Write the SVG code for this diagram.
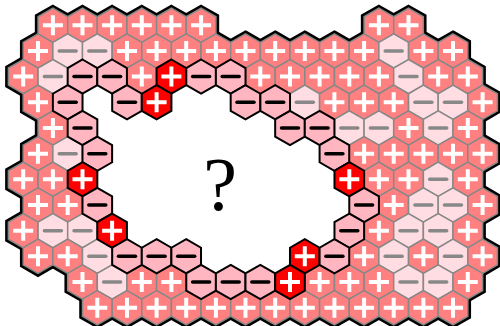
<svg xmlns="http://www.w3.org/2000/svg" xmlns:xlink="http://www.w3.org/1999/xlink" width="500" height="326" viewBox="0 0 500 326">
<style>
.cP{fill:#FF8080;stroke:#888;stroke-width:1.5px}
.cL{fill:#FFDDE2;stroke:#888;stroke-width:1.5px}
.cD{fill:#FFB6C1;stroke:#000;stroke-width:2px}
.cR{fill:#FF0000;stroke:#000;stroke-width:2px}
.sW{fill:none;stroke:#fff;stroke-width:4px}
.sG{fill:none;stroke:#888;stroke-width:3.5px;stroke-linecap:round}
.sK{fill:none;stroke:#000;stroke-width:3.5px;stroke-linecap:round}
.under{fill:#000;stroke:#000;stroke-width:6.5px}
.hole{fill:#fff;stroke:#fff;stroke-width:7px}
.q{font-family:"Liberation Serif","DejaVu Serif",serif;font-size:76px;fill:#000}
</style>
<defs>
<path id="h" d="M0-17.1L14.82-8.55V8.55L0 17.1L-14.82 8.55V-8.55Z"/>
<path id="pl" d="M-10 0H10M0-10V10"/>
<path id="mi" d="M-8.5 0H8.5"/>
<g id="P"><use href="#h" class="cP"/><use href="#pl" class="sW"/></g>
<g id="L"><use href="#h" class="cL"/><use href="#mi" class="sG"/></g>
<g id="D"><use href="#h" class="cD"/><use href="#mi" class="sK"/></g>
<g id="R"><use href="#h" class="cR"/><use href="#pl" class="sW"/></g>
<g id="ev"><use href="#h" x="38"/><use href="#h" x="67.7"/><use href="#h" x="97.3"/><use href="#h" x="127"/><use href="#h" x="156.6"/><use href="#h" x="186.2"/><use href="#h" x="215.9"/><use href="#h" x="245.5"/><use href="#h" x="275.2"/><use href="#h" x="304.8"/><use href="#h" x="334.4"/><use href="#h" x="364.1"/><use href="#h" x="393.7"/><use href="#h" x="423.4"/><use href="#h" x="453"/><use href="#h" x="482.6"/></g>
<g id="od"><use href="#h" x="23.2"/><use href="#h" x="52.9"/><use href="#h" x="82.5"/><use href="#h" x="112.1"/><use href="#h" x="141.8"/><use href="#h" x="171.4"/><use href="#h" x="201.1"/><use href="#h" x="230.7"/><use href="#h" x="260.3"/><use href="#h" x="290"/><use href="#h" x="319.6"/><use href="#h" x="349.3"/><use href="#h" x="378.9"/><use href="#h" x="408.5"/><use href="#h" x="438.2"/><use href="#h" x="467.8"/></g>
</defs>
<g id="outline" class="under">
<g transform="translate(0,25.3)"><use href="#h" x="52.9"/><use href="#h" x="82.5"/><use href="#h" x="112.1"/><use href="#h" x="141.8"/><use href="#h" x="171.4"/><use href="#h" x="201.1"/><use href="#h" x="378.9"/><use href="#h" x="408.5"/></g>
<g transform="translate(0,51)"><use href="#h" x="38"/><use href="#h" x="67.7"/><use href="#h" x="97.3"/><use href="#h" x="127"/><use href="#h" x="156.6"/><use href="#h" x="186.2"/><use href="#h" x="215.9"/><use href="#h" x="245.5"/><use href="#h" x="275.2"/><use href="#h" x="304.8"/><use href="#h" x="334.4"/><use href="#h" x="364.1"/><use href="#h" x="393.7"/><use href="#h" x="423.4"/><use href="#h" x="453"/></g>
<use href="#od" y="76.6"/>
<use href="#ev" y="102.3"/>
<g transform="translate(0,128)"><use href="#h" x="52.9"/><use href="#h" x="82.5"/><use href="#h" x="112.1"/><use href="#h" x="141.8"/><use href="#h" x="171.4"/><use href="#h" x="201.1"/><use href="#h" x="230.7"/><use href="#h" x="260.3"/><use href="#h" x="290"/><use href="#h" x="319.6"/><use href="#h" x="349.3"/><use href="#h" x="378.9"/><use href="#h" x="408.5"/><use href="#h" x="438.2"/><use href="#h" x="467.8"/></g>
<use href="#ev" y="153.7"/>
<use href="#od" y="179.3"/>
<use href="#ev" y="205"/>
<use href="#od" y="230.7"/>
<use href="#ev" y="256.3"/>
<g transform="translate(0,282)"><use href="#h" x="82.5"/><use href="#h" x="112.1"/><use href="#h" x="141.8"/><use href="#h" x="171.4"/><use href="#h" x="201.1"/><use href="#h" x="230.7"/><use href="#h" x="260.3"/><use href="#h" x="290"/><use href="#h" x="319.6"/><use href="#h" x="349.3"/><use href="#h" x="378.9"/><use href="#h" x="408.5"/><use href="#h" x="438.2"/><use href="#h" x="467.8"/></g>
<g transform="translate(0,307.7)"><use href="#h" x="97.3"/><use href="#h" x="127"/><use href="#h" x="156.6"/><use href="#h" x="186.2"/><use href="#h" x="215.9"/><use href="#h" x="245.5"/><use href="#h" x="275.2"/><use href="#h" x="304.8"/><use href="#h" x="334.4"/><use href="#h" x="364.1"/><use href="#h" x="393.7"/><use href="#h" x="423.4"/><use href="#h" x="453"/></g>
</g>
<g id="hole" class="hole">
<use href="#h" x="97.3" y="102.3"/><use href="#h" x="186.2" y="102.3"/><use href="#h" x="215.9" y="102.3"/>
<use href="#h" x="112.1" y="128"/><use href="#h" x="141.8" y="128"/><use href="#h" x="171.4" y="128"/><use href="#h" x="201.1" y="128"/><use href="#h" x="230.7" y="128"/><use href="#h" x="260.3" y="128"/>
<use href="#h" x="127" y="153.7"/><use href="#h" x="156.6" y="153.7"/><use href="#h" x="186.2" y="153.7"/><use href="#h" x="215.9" y="153.7"/><use href="#h" x="245.5" y="153.7"/><use href="#h" x="275.2" y="153.7"/><use href="#h" x="304.8" y="153.7"/>
<use href="#h" x="112.1" y="179.3"/><use href="#h" x="141.8" y="179.3"/><use href="#h" x="171.4" y="179.3"/><use href="#h" x="201.1" y="179.3"/><use href="#h" x="230.7" y="179.3"/><use href="#h" x="260.3" y="179.3"/><use href="#h" x="290" y="179.3"/><use href="#h" x="319.6" y="179.3"/>
<use href="#h" x="127" y="205"/><use href="#h" x="156.6" y="205"/><use href="#h" x="186.2" y="205"/><use href="#h" x="215.9" y="205"/><use href="#h" x="245.5" y="205"/><use href="#h" x="275.2" y="205"/><use href="#h" x="304.8" y="205"/><use href="#h" x="334.4" y="205"/>
<use href="#h" x="141.8" y="230.7"/><use href="#h" x="171.4" y="230.7"/><use href="#h" x="201.1" y="230.7"/><use href="#h" x="230.7" y="230.7"/><use href="#h" x="260.3" y="230.7"/><use href="#h" x="290" y="230.7"/><use href="#h" x="319.6" y="230.7"/>
<use href="#h" x="215.9" y="256.3"/><use href="#h" x="245.5" y="256.3"/><use href="#h" x="275.2" y="256.3"/>
</g>
<g id="light-cells">
<g id="row0"><use href="#P" x="52.9" y="25.3"/><use href="#P" x="82.5" y="25.3"/><use href="#P" x="112.1" y="25.3"/><use href="#P" x="141.8" y="25.3"/><use href="#P" x="171.4" y="25.3"/><use href="#P" x="201.1" y="25.3"/><use href="#P" x="378.9" y="25.3"/><use href="#P" x="408.5" y="25.3"/></g>
<g id="row1"><use href="#P" x="38" y="51"/><use href="#L" x="67.7" y="51"/><use href="#L" x="97.3" y="51"/><use href="#P" x="127" y="51"/><use href="#P" x="156.6" y="51"/><use href="#P" x="186.2" y="51"/><use href="#P" x="215.9" y="51"/><use href="#P" x="245.5" y="51"/><use href="#P" x="275.2" y="51"/><use href="#P" x="304.8" y="51"/><use href="#P" x="334.4" y="51"/><use href="#P" x="364.1" y="51"/><use href="#L" x="393.7" y="51"/><use href="#P" x="423.4" y="51"/><use href="#P" x="453" y="51"/></g>
<g id="row2"><use href="#P" x="23.2" y="76.6"/><use href="#L" x="52.9" y="76.6"/><use href="#P" x="141.8" y="76.6"/><use href="#P" x="260.3" y="76.6"/><use href="#P" x="290" y="76.6"/><use href="#P" x="319.6" y="76.6"/><use href="#P" x="349.3" y="76.6"/><use href="#P" x="378.9" y="76.6"/><use href="#L" x="408.5" y="76.6"/><use href="#P" x="438.2" y="76.6"/><use href="#P" x="467.8" y="76.6"/></g>
<g id="row3"><use href="#P" x="38" y="102.3"/><use href="#L" x="304.8" y="102.3"/><use href="#P" x="334.4" y="102.3"/><use href="#P" x="364.1" y="102.3"/><use href="#P" x="393.7" y="102.3"/><use href="#L" x="423.4" y="102.3"/><use href="#L" x="453" y="102.3"/><use href="#P" x="482.6" y="102.3"/></g>
<g id="row4"><use href="#P" x="52.9" y="128"/><use href="#L" x="349.3" y="128"/><use href="#L" x="378.9" y="128"/><use href="#P" x="408.5" y="128"/><use href="#L" x="438.2" y="128"/><use href="#P" x="467.8" y="128"/></g>
<g id="row5"><use href="#P" x="38" y="153.7"/><use href="#L" x="67.7" y="153.7"/><use href="#P" x="364.1" y="153.7"/><use href="#P" x="393.7" y="153.7"/><use href="#P" x="423.4" y="153.7"/><use href="#P" x="453" y="153.7"/><use href="#P" x="482.6" y="153.7"/></g>
<g id="row6"><use href="#P" x="23.2" y="179.3"/><use href="#P" x="52.9" y="179.3"/><use href="#P" x="378.9" y="179.3"/><use href="#P" x="408.5" y="179.3"/><use href="#L" x="438.2" y="179.3"/><use href="#P" x="467.8" y="179.3"/></g>
<g id="row7"><use href="#P" x="38" y="205"/><use href="#P" x="67.7" y="205"/><use href="#P" x="393.7" y="205"/><use href="#L" x="423.4" y="205"/><use href="#L" x="453" y="205"/><use href="#P" x="482.6" y="205"/></g>
<g id="row8"><use href="#P" x="23.2" y="230.7"/><use href="#L" x="52.9" y="230.7"/><use href="#L" x="82.5" y="230.7"/><use href="#P" x="378.9" y="230.7"/><use href="#L" x="408.5" y="230.7"/><use href="#L" x="438.2" y="230.7"/><use href="#P" x="467.8" y="230.7"/></g>
<g id="row9"><use href="#P" x="38" y="256.3"/><use href="#P" x="67.7" y="256.3"/><use href="#L" x="97.3" y="256.3"/><use href="#P" x="364.1" y="256.3"/><use href="#L" x="393.7" y="256.3"/><use href="#P" x="423.4" y="256.3"/><use href="#L" x="453" y="256.3"/><use href="#P" x="482.6" y="256.3"/></g>
<g id="row10"><use href="#P" x="82.5" y="282"/><use href="#L" x="112.1" y="282"/><use href="#P" x="141.8" y="282"/><use href="#P" x="171.4" y="282"/><use href="#P" x="319.6" y="282"/><use href="#P" x="349.3" y="282"/><use href="#P" x="378.9" y="282"/><use href="#L" x="408.5" y="282"/><use href="#L" x="438.2" y="282"/><use href="#P" x="467.8" y="282"/></g>
<g id="row11"><use href="#P" x="97.3" y="307.7"/><use href="#P" x="127" y="307.7"/><use href="#P" x="156.6" y="307.7"/><use href="#P" x="186.2" y="307.7"/><use href="#P" x="215.9" y="307.7"/><use href="#P" x="245.5" y="307.7"/><use href="#P" x="275.2" y="307.7"/><use href="#P" x="304.8" y="307.7"/><use href="#P" x="334.4" y="307.7"/><use href="#P" x="364.1" y="307.7"/><use href="#P" x="393.7" y="307.7"/><use href="#P" x="423.4" y="307.7"/><use href="#P" x="453" y="307.7"/></g>
</g>
<g id="dark-cells">
<use href="#D" x="82.5" y="76.6"/><use href="#D" x="112.1" y="76.6"/><use href="#R" x="171.4" y="76.6"/><use href="#D" x="201.1" y="76.6"/><use href="#D" x="230.7" y="76.6"/>
<use href="#D" x="67.7" y="102.3"/><use href="#D" x="127" y="102.3"/><use href="#R" x="156.6" y="102.3"/><use href="#D" x="245.5" y="102.3"/><use href="#D" x="275.2" y="102.3"/>
<use href="#D" x="82.5" y="128"/><use href="#D" x="290" y="128"/><use href="#D" x="319.6" y="128"/>
<use href="#D" x="97.3" y="153.7"/><use href="#D" x="334.4" y="153.7"/>
<use href="#R" x="82.5" y="179.3"/><use href="#R" x="349.3" y="179.3"/>
<use href="#D" x="97.3" y="205"/><use href="#D" x="364.1" y="205"/>
<use href="#R" x="112.1" y="230.7"/><use href="#D" x="349.3" y="230.7"/>
<use href="#D" x="127" y="256.3"/><use href="#D" x="156.6" y="256.3"/><use href="#D" x="186.2" y="256.3"/><use href="#R" x="304.8" y="256.3"/><use href="#D" x="334.4" y="256.3"/>
<use href="#D" x="201.1" y="282"/><use href="#D" x="230.7" y="282"/><use href="#D" x="260.3" y="282"/><use href="#R" x="290" y="282"/>
</g>
<text class="q" x="220" y="210" text-anchor="middle">?</text>
</svg>
